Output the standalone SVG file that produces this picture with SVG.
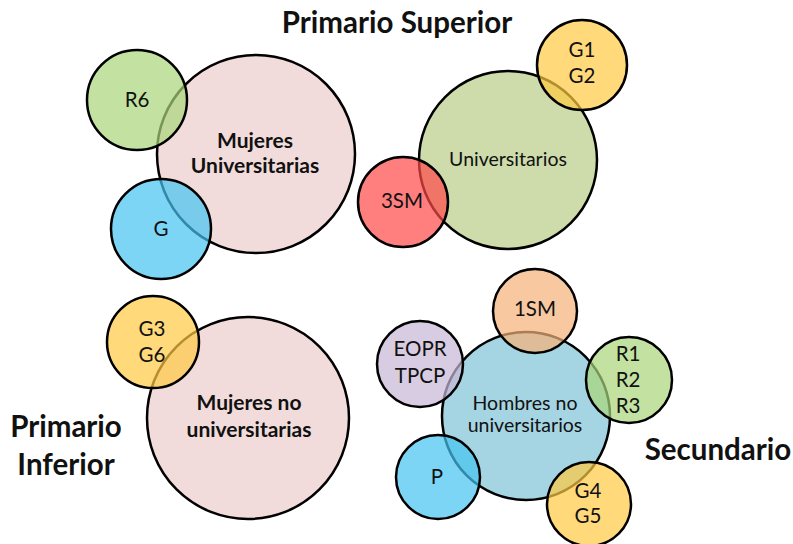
<svg xmlns="http://www.w3.org/2000/svg" width="793" height="544" viewBox="0 0 793 544">
<style>
circle{stroke:#000;stroke-width:2.5}
.sm{fill-opacity:0.7}
text{font-family:Lato,"Open Sans","Liberation Sans",sans-serif;fill:#111;text-anchor:middle}
.lb{font-size:20.5px}
.bl{font-size:21px;font-weight:bold}
.nm{font-size:19.5px}
.tt{font-size:29.5px;font-weight:bold}
.pink{fill:#F2DCDB}
.olive{fill:#CDDCAA}
.lblue{fill:#A5D5E2}
.green{fill:#AAD67A}
.blue{fill:#45C3F1}
.yellow{fill:#FFC941}
.red{fill:#FF4848}
.orange{fill:#F5B077}
.lav{fill:#C7B6D6}
</style>
<rect width="793" height="544" fill="#fff"/>
<g id="titles">
<text class="tt" x="397" y="33">Primario Superior</text>
<text class="tt" x="66" y="437">Primario</text>
<text class="tt" x="66" y="475">Inferior</text>
<text class="tt" x="718" y="460">Secundario</text>
</g>
<g id="connectors"></g>
<g id="mujeres-universitarias">
<circle class="pink" cx="256" cy="154" r="99"/>
<text class="bl" x="255" y="148">Mujeres</text>
<text class="bl" x="255" y="173">Universitarias</text>
</g>
<g id="r6">
<circle class="sm green" cx="137" cy="100" r="50"/>
<text class="lb" x="137" y="107">R6</text>
</g>
<g id="g">
<circle class="sm blue" cx="161" cy="229" r="50"/>
<text class="lb" x="161" y="236">G</text>
</g>
<g id="universitarios">
<circle class="olive" cx="508" cy="160" r="89"/>
<text class="nm" x="508" y="166">Universitarios</text>
</g>
<g id="g1g2">
<circle class="sm yellow" cx="582" cy="65" r="45"/>
<text class="lb" x="582" y="57">G1</text>
<text class="lb" x="582" y="83">G2</text>
</g>
<g id="3sm">
<circle class="sm red" cx="403" cy="202" r="45"/>
<text class="lb" x="402" y="208">3SM</text>
</g>
<g id="mujeres-no-universitarias">
<circle class="pink" cx="248" cy="418" r="101"/>
<text class="bl" x="249" y="410">Mujeres no</text>
<text class="bl" x="249" y="437">universitarias</text>
</g>
<g id="g3g6">
<circle class="sm yellow" cx="153" cy="342" r="46"/>
<text class="lb" x="152" y="336">G3</text>
<text class="lb" x="152" y="362">G6</text>
</g>
<g id="hombres-no-universitarios">
<circle class="lblue" cx="526" cy="416" r="84"/>
<text class="nm" x="525" y="410">Hombres no</text>
<text class="nm" x="525" y="432">universitarios</text>
</g>
<g id="1sm">
<circle class="sm orange" cx="535" cy="311" r="42"/>
<text class="lb" x="535" y="316">1SM</text>
</g>
<g id="eopr-tpcp">
<circle class="sm lav" cx="420" cy="364" r="43"/>
<text class="lb" x="420" y="356">EOPR</text>
<text class="lb" x="420" y="383">TPCP</text>
</g>
<g id="r1r2r3">
<circle class="sm green" cx="629" cy="380" r="43"/>
<text class="lb" x="628" y="361">R1</text>
<text class="lb" x="628" y="387">R2</text>
<text class="lb" x="628" y="413">R3</text>
</g>
<g id="p">
<circle class="sm blue" cx="438" cy="477" r="42"/>
<text class="lb" x="437" y="484">P</text>
</g>
<g id="g4g5">
<circle class="sm yellow" cx="589" cy="504" r="42"/>
<text class="lb" x="588" y="498">G4</text>
<text class="lb" x="588" y="523">G5</text>
</g>
</svg>
